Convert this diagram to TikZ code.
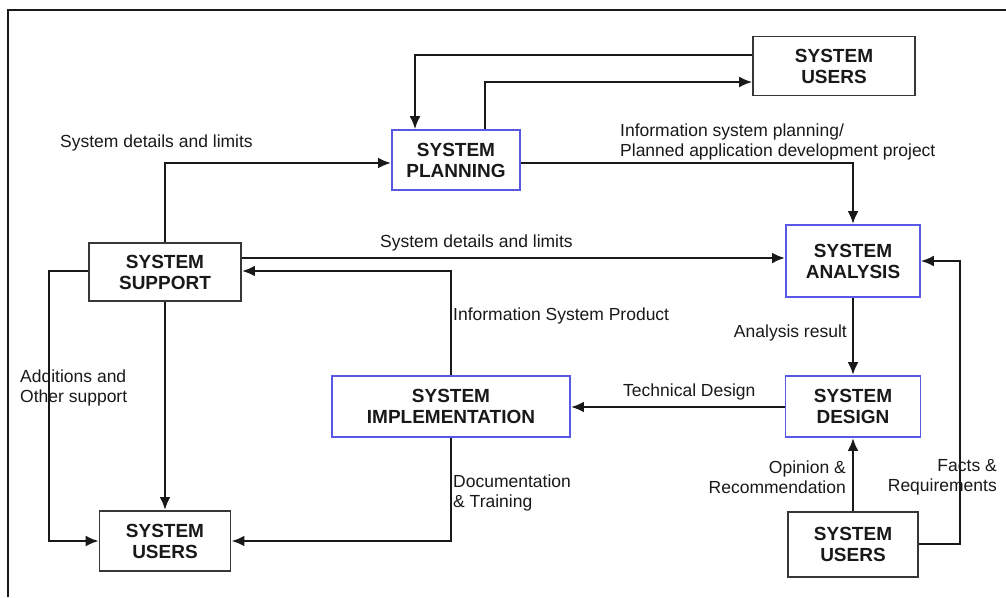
\documentclass[tikz,border=0pt]{standalone}
\usepackage{fontspec}
\setmainfont{Liberation Sans}
\usetikzlibrary{arrows.meta}
\definecolor{boxblue}{RGB}{88,88,228}
\definecolor{ink}{RGB}{25,25,25}
\definecolor{boxgray}{RGB}{55,55,55}
\tikzset{
  box/.style={draw=boxgray, line width=1.8pt, fill=white, align=center, inner sep=0pt,
    font=\bfseries\fontsize{19}{21}\selectfont, text=ink},
  bluebox/.style={box, draw=boxblue},
  thick conn/.style={line width=2.8pt, draw=ink},
  thin conn/.style={line width=2pt, draw=ink},
  arr/.style={thick conn, -{Latex[length=13pt,width=11pt]}},
  tarr/.style={thin conn, -{Latex[length=13pt,width=11pt]}},
  lbl/.style={inner sep=0pt, font=\fontsize{17.5}{20}\selectfont, text=ink}
}
\begin{document}
\begin{tikzpicture}[x=1pt,y=-1pt]
\useasboundingbox (0,0) rectangle (1006,597);
\fill[white] (0,0) rectangle (1006,597);
% frame
\draw[line width=2pt, draw=ink] (8,597) -- (8,10) -- (1006,10);

% boxes
\node[box, minimum width=162pt, minimum height=59pt] (tu) at (834,66) {SYSTEM\\USERS};
\node[bluebox, minimum width=128pt, minimum height=60pt] (plan) at (456,160) {SYSTEM\\PLANNING};
\node[box, minimum width=152pt, minimum height=58pt] (sup) at (165,272) {SYSTEM\\SUPPORT};
\node[bluebox, minimum width=134pt, minimum height=72pt] (ana) at (853,261) {SYSTEM\\ANALYSIS};
\node[bluebox, minimum width=238pt, minimum height=61pt] (imp) at (451,406.5) {SYSTEM\\IMPLEMENTATION};
\node[bluebox, minimum width=135pt, minimum height=61pt] (des) at (853,406.5) {SYSTEM\\DESIGN};
\node[box, minimum width=131pt, minimum height=60pt] (ub) at (165,541) {SYSTEM\\USERS};
\node[box, minimum width=130pt, minimum height=65pt] (ur) at (853,544.5) {SYSTEM\\USERS};

% bend coordinates
\coordinate (k1) at (415,55);
\coordinate (k2) at (485,82);
\coordinate (k3) at (165,163);
\coordinate (k4) at (853,163);
\coordinate (k5) at (451,271);
\coordinate (k6) at (49,271);
\coordinate (k7) at (49,541);
\coordinate (k8) at (451,541);
\coordinate (k9) at (960,544);
\coordinate (k10) at (960,261);
\coordinate (k11) at (0,258);
\coordinate (k12) at (0,407);

% connectors
\draw[tarr] (tu.west |- k1) -| (k1 |- plan.north);
\draw[tarr] (k2 |- plan.north) |- (tu.west |- k2);
\draw[arr] (k3 |- sup.north) |- (plan.west |- k3);
\draw[arr] (plan.east |- k4) -| (ana.north);
\draw[arr] (sup.east |- k11) -- (ana.west |- k11);
\draw[arr] (k5 |- imp.north) |- (sup.east |- k5);
\draw[arr] (sup.south) -- (ub.north);
\draw[tarr] (sup.west |- k6) -- (k6) -- (k7) -- (ub.west |- k7);
\draw[arr] (k8 |- imp.south) |- (ub.east |- k8);
\draw[arr] (ana.south) -- (des.north);
\draw[arr] (des.west |- k12) -- (imp.east |- k12);
\draw[arr] (ur.north) -- (des.south);
\draw[tarr] (ur.east |- k9) -- (k9) -- (k10) -- (ana.east |- k10);

% labels
\node[lbl, anchor=west] (l1) at (60,143) {System details and limits};
\node[lbl, anchor=west, align=left] (l2) at (620,142) {Information system planning/\\Planned application development project};
\node[lbl, anchor=west] (l3) at (380,243) {System details and limits};
\node[lbl, anchor=west] (l4) at (453,316) {Information System Product};
\node[lbl, anchor=east] (l5) at (847,333) {Analysis result};
\node[lbl, anchor=west] (l6) at (623,392) {Technical Design};
\node[lbl, anchor=west, align=left] (l7) at (20,388) {Additions and\\Other support};
\node[lbl, anchor=west, align=left] (l8) at (453,493) {Documentation\\\& Training};
\node[lbl, anchor=east, align=right] (l9) at (846,477) {Opinion \&\\Recommendation};
\node[lbl, anchor=east, align=right] (l10) at (997,477) {Facts \&\\Requirements};
\end{tikzpicture}
\end{document}
